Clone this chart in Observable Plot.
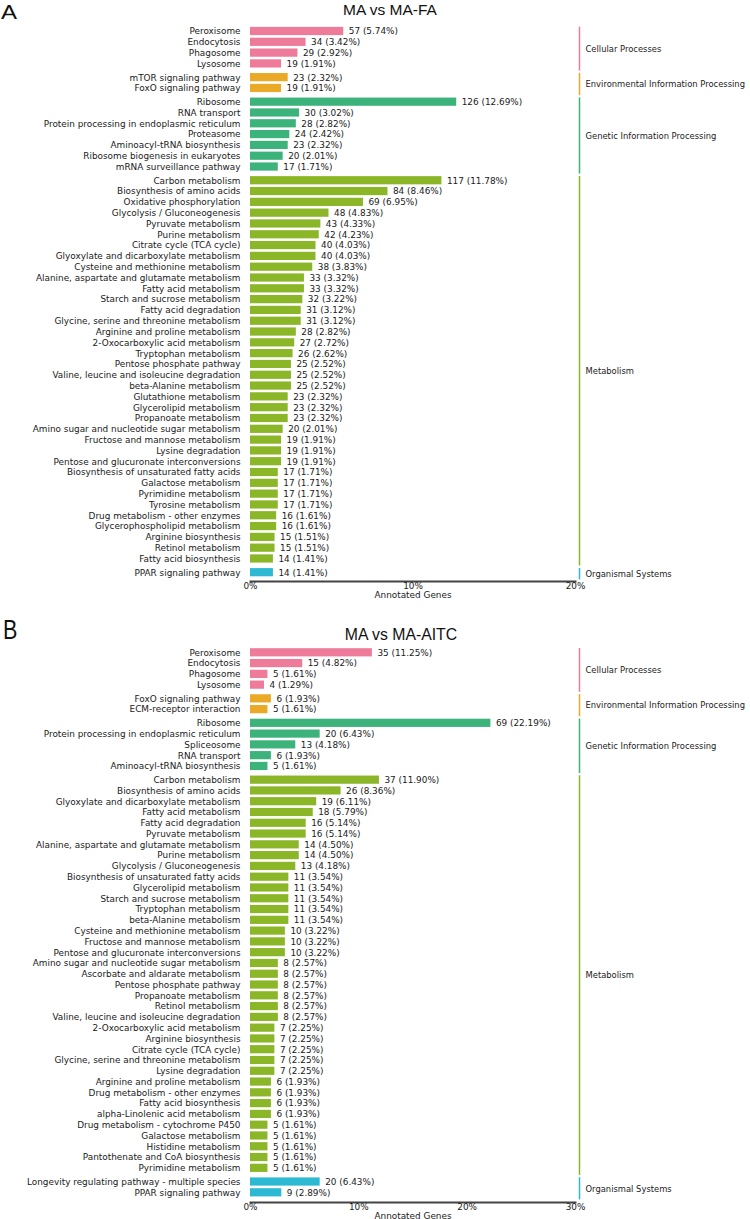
<!DOCTYPE html>
<html><head><meta charset="utf-8">
<script src="https://cdn.jsdelivr.net/npm/d3@7"></script>
<script src="https://cdn.jsdelivr.net/npm/@observablehq/plot@0.6"></script>
<style>
body{margin:0;background:#fff;width:750px;overflow:hidden;}
.hdr{position:relative;width:750px;}
.hdr span{position:absolute;white-space:nowrap;line-height:1;font-family:"Liberation Sans",Arial,sans-serif;color:#111;}
svg{display:block;overflow:visible}
</style></head><body>
<div class="hdr" style="height:22px">
  <span style="left:1px;top:2px;font-size:20px;transform:scaleX(1.2);transform-origin:left top">A</span>
  <span style="left:390px;top:1.8px;font-size:15.5px;transform:translateX(-50%)">MA vs MA-FA</span>
</div>
<div id="chartA"></div>
<div class="hdr" style="height:46px">
  <span style="left:3px;top:17px;font-size:27px;transform:scaleX(0.8);transform-origin:left top">B</span>
  <span style="left:401px;top:27px;font-size:15.8px;transform:translateX(-50%)">MA vs MA-AITC</span>
</div>
<div id="chartB"></div>
<script>
// ---- shared categories ----
const groupNames = ["Cellular Processes", "Environmental Information Processing", "Genetic Information Processing", "Metabolism", "Organismal Systems"];
const groupColors = ["#ED7B99", "#EAAA28", "#3CB37B", "#8AB628", "#2EB9D2"];

// ---- Panel A: MA vs MA-FA ----
const pathwaysA = [
  "Peroxisome", "Endocytosis", "Phagosome", "Lysosome",
  "mTOR signaling pathway", "FoxO signaling pathway",
  "Ribosome", "RNA transport", "Protein processing in endoplasmic reticulum", "Proteasome", "Aminoacyl-tRNA biosynthesis", "Ribosome biogenesis in eukaryotes", "mRNA surveillance pathway",
  "Carbon metabolism", "Biosynthesis of amino acids", "Oxidative phosphorylation", "Glycolysis / Gluconeogenesis", "Pyruvate metabolism", "Purine metabolism", "Citrate cycle (TCA cycle)", "Glyoxylate and dicarboxylate metabolism", "Cysteine and methionine metabolism", "Alanine, aspartate and glutamate metabolism", "Fatty acid metabolism", "Starch and sucrose metabolism", "Fatty acid degradation", "Glycine, serine and threonine metabolism", "Arginine and proline metabolism", "2-Oxocarboxylic acid metabolism", "Tryptophan metabolism", "Pentose phosphate pathway", "Valine, leucine and isoleucine degradation", "beta-Alanine metabolism", "Glutathione metabolism", "Glycerolipid metabolism", "Propanoate metabolism", "Amino sugar and nucleotide sugar metabolism", "Fructose and mannose metabolism", "Lysine degradation", "Pentose and glucuronate interconversions", "Biosynthesis of unsaturated fatty acids", "Galactose metabolism", "Pyrimidine metabolism", "Tyrosine metabolism", "Drug metabolism - other enzymes", "Glycerophospholipid metabolism", "Arginine biosynthesis", "Retinol metabolism", "Fatty acid biosynthesis",
  "PPAR signaling pathway"
];
const countsA = [57, 34, 29, 19, 23, 19, 126, 30, 28, 24, 23, 20, 17,
  117, 84, 69, 48, 43, 42, 40, 40, 38, 33, 33, 32, 31, 31, 28, 27, 26, 25, 25, 25, 23, 23, 23, 20, 19, 19, 19, 17, 17, 17, 17, 16, 16, 15, 15, 14,
  14];
const percentsA = [5.74, 3.42, 2.92, 1.91, 2.32, 1.91, 12.69, 3.02, 2.82, 2.42, 2.32, 2.01, 1.71,
  11.78, 8.46, 6.95, 4.83, 4.33, 4.23, 4.03, 4.03, 3.83, 3.32, 3.32, 3.22, 3.12, 3.12, 2.82, 2.72, 2.62, 2.52, 2.52, 2.52, 2.32, 2.32, 2.32, 2.01, 1.91, 1.91, 1.91, 1.71, 1.71, 1.71, 1.71, 1.61, 1.61, 1.51, 1.51, 1.41,
  1.41];
const groupSizesA = [4, 2, 7, 36, 1];
const ticksA = [0, 10, 20];

// ---- Panel B: MA vs MA-AITC ----
const pathwaysB = [
  "Peroxisome", "Endocytosis", "Phagosome", "Lysosome",
  "FoxO signaling pathway", "ECM-receptor interaction",
  "Ribosome", "Protein processing in endoplasmic reticulum", "Spliceosome", "RNA transport", "Aminoacyl-tRNA biosynthesis",
  "Carbon metabolism", "Biosynthesis of amino acids", "Glyoxylate and dicarboxylate metabolism", "Fatty acid metabolism", "Fatty acid degradation", "Pyruvate metabolism", "Alanine, aspartate and glutamate metabolism", "Purine metabolism", "Glycolysis / Gluconeogenesis", "Biosynthesis of unsaturated fatty acids", "Glycerolipid metabolism", "Starch and sucrose metabolism", "Tryptophan metabolism", "beta-Alanine metabolism", "Cysteine and methionine metabolism", "Fructose and mannose metabolism", "Pentose and glucuronate interconversions", "Amino sugar and nucleotide sugar metabolism", "Ascorbate and aldarate metabolism", "Pentose phosphate pathway", "Propanoate metabolism", "Retinol metabolism", "Valine, leucine and isoleucine degradation", "2-Oxocarboxylic acid metabolism", "Arginine biosynthesis", "Citrate cycle (TCA cycle)", "Glycine, serine and threonine metabolism", "Lysine degradation", "Arginine and proline metabolism", "Drug metabolism - other enzymes", "Fatty acid biosynthesis", "alpha-Linolenic acid metabolism", "Drug metabolism - cytochrome P450", "Galactose metabolism", "Histidine metabolism", "Pantothenate and CoA biosynthesis", "Pyrimidine metabolism",
  "Longevity regulating pathway - multiple species", "PPAR signaling pathway"
];
const countsB = [35, 15, 5, 4, 6, 5, 69, 20, 13, 6, 5,
  37, 26, 19, 18, 16, 16, 14, 14, 13, 11, 11, 11, 11, 11, 10, 10, 10, 8, 8, 8, 8, 8, 8, 7, 7, 7, 7, 7, 6, 6, 6, 6, 5, 5, 5, 5, 5,
  20, 9];
const percentsB = [11.25, 4.82, 1.61, 1.29, 1.93, 1.61, 22.19, 6.43, 4.18, 1.93, 1.61,
  11.90, 8.36, 6.11, 5.79, 5.14, 5.14, 4.50, 4.50, 4.18, 3.54, 3.54, 3.54, 3.54, 3.54, 3.22, 3.22, 3.22, 2.57, 2.57, 2.57, 2.57, 2.57, 2.57, 2.25, 2.25, 2.25, 2.25, 2.25, 1.93, 1.93, 1.93, 1.93, 1.61, 1.61, 1.61, 1.61, 1.61,
  6.43, 2.89];
const groupSizesB = [4, 2, 5, 37, 2];
const ticksB = [0, 10, 20, 30];

const GAP = 0.27;      // extra space between groups, in rows
const HALF = 0.38;     // half bar thickness, in rows

function buildRows(names, counts, percents, sizes) {
  const rows = [], groups = [];
  let i = 0;
  sizes.forEach((n, g) => {
    const first = i + g * GAP;
    for (let k = 0; k < n; k++, i++) {
      rows.push({name: names[i], count: counts[i], pct: percents[i], group: groupNames[g], pos: i + g * GAP});
    }
    const last = (i - 1) + g * GAP;
    groups.push({name: groupNames[g], top: first - 0.4, bottom: last + 0.66});
  });
  return {rows, groups, ymax: (i - 1) + (sizes.length - 1) * GAP};
}

function panel({names, counts, percents, sizes, ticks, height, marginBottom, labelOffset, range}) {
  const {rows, groups, ymax} = buildRows(names, counts, percents, sizes);
  const xmax = d3.max(ticks);
  return Plot.plot({
    width: 750, height, marginLeft: 250, marginRight: 175, marginTop: 0, marginBottom,
    style: {fontFamily: '"DejaVu Sans", sans-serif', fontSize: "8.9px", color: "#1a1a1a", background: "white", overflow: "visible"},
    x: {domain: [0, xmax]},
    y: {domain: [0, ymax], range, axis: null},
    color: {domain: groupNames, range: groupColors},
    marks: [
      Plot.rect(rows, {x1: 0, x2: "pct", y1: d => d.pos - HALF, y2: d => d.pos + HALF, fill: "group"}),
      Plot.text(rows, {x: 0, y: "pos", text: "name", textAnchor: "end", dx: -10}),
      Plot.text(rows, {x: "pct", y: "pos", text: d => `${d.count} (${d.pct.toFixed(2)}%)`, textAnchor: "start", dx: 5}),
      Plot.ruleX(groups, {x: xmax, y1: "top", y2: "bottom", stroke: "name", strokeWidth: 1.5, dx: 4}),
      Plot.text(groups, {x: xmax, y: d => (d.top + d.bottom) / 2, text: "name", textAnchor: "start", dx: 10, fontSize: 8.4}),
      Plot.frame({anchor: "bottom", stroke: "#444", strokeWidth: 2}),
      Plot.axisX({ticks, tickFormat: d => d + "%", tickSize: 0, tickPadding: 1, label: "Annotated Genes", labelAnchor: "center", labelOffset, labelArrow: "none"})
    ]
  });
}

document.getElementById("chartA").append(panel({
  names: pathwaysA, counts: countsA, percents: percentsA, sizes: groupSizesA, ticks: ticksA,
  height: 578, marginBottom: 19, labelOffset: 16, range: [9, 550.2]
}));
document.getElementById("chartB").append(panel({
  names: pathwaysB, counts: countsB, percents: percentsB, sizes: groupSizesB, ticks: ticksB,
  height: 573, marginBottom: 17, labelOffset: 16, range: [6.3, 546.3]
}));
</script>
</body></html>
